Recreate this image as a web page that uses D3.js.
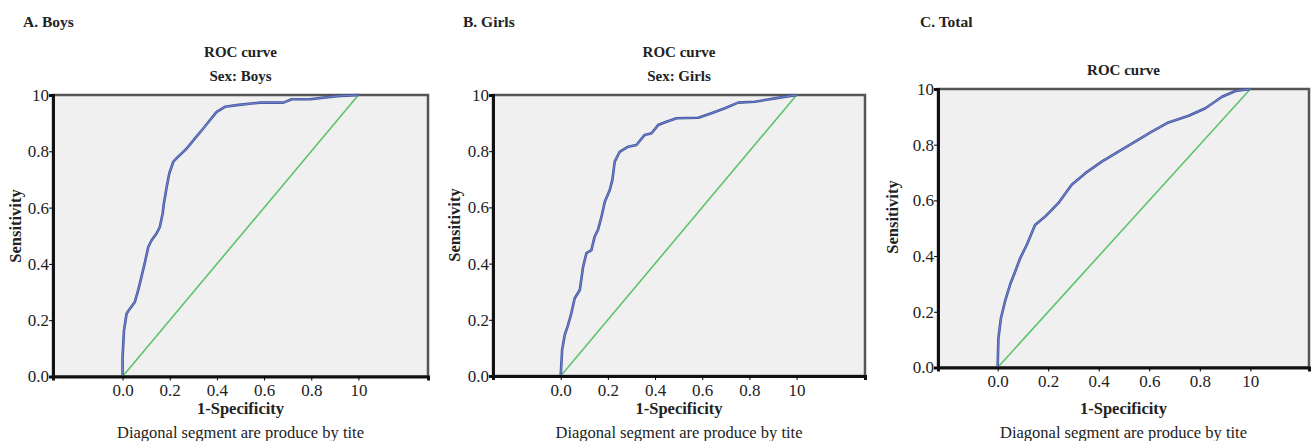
<html>
<head>
<meta charset="utf-8">
<script src="https://d3js.org/d3.v7.min.js"></script>
<style>
  body { margin: 0; background: #fff; }
  text { font-family: "Liberation Serif", serif; fill: #222; }
</style>
</head>
<body>
<svg id="chart" width="1314" height="441"></svg>
<script>
// ROC points (1-specificity, sensitivity)
var boysFpr = [0, 0, 0.006, 0.017, 0.031, 0.052, 0.066, 0.08, 0.095, 0.109, 0.123, 0.144, 0.158, 0.17, 0.175, 0.187, 0.198, 0.215, 0.236, 0.272, 0.307, 0.342, 0.371, 0.399, 0.434, 0.484, 0.583, 0.682, 0.717, 0.795, 0.908, 1];
var boysTpr = [0, 0.069, 0.164, 0.223, 0.241, 0.265, 0.306, 0.354, 0.407, 0.46, 0.484, 0.508, 0.531, 0.579, 0.614, 0.673, 0.721, 0.763, 0.781, 0.81, 0.846, 0.881, 0.911, 0.94, 0.958, 0.964, 0.973, 0.973, 0.985, 0.985, 0.996, 1];

var girlsFpr = [0, 0.006, 0.017, 0.031, 0.045, 0.059, 0.081, 0.095, 0.109, 0.13, 0.144, 0.158, 0.173, 0.187, 0.208, 0.219, 0.229, 0.25, 0.286, 0.321, 0.356, 0.385, 0.413, 0.448, 0.491, 0.583, 0.639, 0.696, 0.752, 0.823, 0.908, 1];
var girlsTpr = [0, 0.093, 0.146, 0.181, 0.223, 0.276, 0.306, 0.389, 0.437, 0.448, 0.496, 0.52, 0.567, 0.62, 0.662, 0.698, 0.763, 0.798, 0.816, 0.822, 0.858, 0.864, 0.893, 0.905, 0.917, 0.919, 0.935, 0.953, 0.973, 0.976, 0.988, 1];

var totalFpr = [0, 0.003, 0.013, 0.029, 0.049, 0.069, 0.089, 0.115, 0.148, 0.188, 0.24, 0.293, 0.346, 0.412, 0.478, 0.544, 0.61, 0.676, 0.756, 0.822, 0.888, 0.941, 1];
var totalTpr = [0, 0.105, 0.177, 0.237, 0.297, 0.344, 0.392, 0.44, 0.512, 0.542, 0.59, 0.656, 0.697, 0.739, 0.775, 0.811, 0.847, 0.88, 0.904, 0.931, 0.972, 0.993, 1];

var tickValues = [0, 0.2, 0.4, 0.6, 0.8, 1];
var tickLabels = ["0.0", "0.2", "0.4", "0.6", "0.8", "10"];

var panels = [
  {letter: "A. Boys", titles: ["ROC curve", "Sex: Boys"], fpr: boysFpr, tpr: boysTpr,
   l: 53, t: 95, r: 428, b: 376.5, xd: [-0.295, 1.295], letterX: 23, titleY: [57, 81],
   tickY: 396, sensX: 15, sensY: 226},
  {letter: "B. Girls", titles: ["ROC curve", "Sex: Girls"], fpr: girlsFpr, tpr: girlsTpr,
   l: 493, t: 95, r: 865, b: 376, xd: [-0.287, 1.29], letterX: 463, titleY: [57, 81],
   tickY: 396, sensX: 454, sensY: 225},
  {letter: "C. Total", titles: ["ROC curve"], fpr: totalFpr, tpr: totalTpr,
   l: 938, t: 89, r: 1309, b: 367.5, xd: [-0.236, 1.232], letterX: 920, titleY: [75],
   tickY: 387, sensX: 892, sensY: 217}
];

var svg = d3.select("#chart");

panels.forEach(function(p) {
  var g = svg.append("g");
  var cx = (p.l + p.r) / 2;

  var x = d3.scaleLinear().domain(p.xd).range([p.l, p.r]);
  var y = d3.scaleLinear().domain([0, 1]).range([p.b, p.t]);

  g.append("text")
    .attr("x", p.letterX).attr("y", 27)
    .style("font-weight", "bold").style("font-size", "15.5px")
    .text(p.letter);

  p.titles.forEach(function(t, i) {
    g.append("text")
      .attr("x", cx).attr("y", p.titleY[i])
      .attr("text-anchor", "middle")
      .style("font-weight", "bold").style("font-size", "15px")
      .text(t);
  });

  // plot area
  g.append("rect")
    .attr("x", p.l).attr("y", p.t)
    .attr("width", p.r - p.l).attr("height", p.b - p.t)
    .attr("fill", "#f0f0f0")
    .attr("stroke", "#555").attr("stroke-width", 2.5);

  // diagonal reference
  g.append("line")
    .attr("x1", x(0)).attr("y1", y(0))
    .attr("x2", x(1)).attr("y2", y(1))
    .attr("stroke", "#5cc46c").attr("stroke-width", 1.6);

  var pts = p.fpr.map(function(d, i) { return [d, p.tpr[i]]; });
  var line = d3.line()
    .x(function(d) { return x(d[0]); })
    .y(function(d) { return y(d[1]); });

  g.append("path")
    .datum(pts)
    .attr("d", line)
    .attr("fill", "none")
    .attr("stroke", "#3e4f9c").attr("stroke-width", 2.6)
    .attr("stroke-linejoin", "round");
  g.append("path")
    .datum(pts)
    .attr("d", line)
    .attr("fill", "none")
    .attr("stroke", "#6f82c8").attr("stroke-width", 1.2)
    .attr("stroke-linejoin", "round");

  // axes (left + bottom drawn darker)
  var yAxis = d3.axisLeft(y).tickValues(tickValues)
    .tickFormat(function(d, i) { return tickLabels[i]; })
    .tickSize(4).tickPadding(0);
  var ya = g.append("g").attr("transform", "translate(" + p.l + ",0)").call(yAxis);
  ya.select(".domain").attr("stroke", "#111").attr("stroke-width", 3);
  ya.selectAll("text").style("font-size", "17px").style("font-family", "Liberation Serif").attr("fill", "#222");

  var xAxis = d3.axisBottom(x).tickValues(tickValues)
    .tickFormat(function(d, i) { return tickLabels[i]; })
    .tickSize(4).tickPadding(0);
  var xa = g.append("g").attr("transform", "translate(0," + p.b + ")").call(xAxis);
  xa.select(".domain").attr("stroke", "#111").attr("stroke-width", 3);
  xa.selectAll("text")
    .attr("y", null).attr("dy", null)
    .attr("y", p.tickY - p.b)
    .style("font-size", "17px").style("font-family", "Liberation Serif").attr("fill", "#222");

  g.append("text")
    .attr("transform", "translate(" + p.sensX + "," + p.sensY + ") rotate(-90)")
    .attr("text-anchor", "middle").attr("dy", "0.35em")
    .style("font-weight", "bold").style("font-size", "16.5px")
    .text("Sensitivity");

  g.append("text")
    .attr("x", cx).attr("y", 414)
    .attr("text-anchor", "middle")
    .style("font-weight", "bold").style("font-size", "16.5px")
    .text("1-Specificity");

  g.append("text")
    .attr("x", cx).attr("y", 438)
    .attr("text-anchor", "middle")
    .style("font-size", "16.5px")
    .text("Diagonal segment are produce by tite");
});
</script>
</body>
</html>
